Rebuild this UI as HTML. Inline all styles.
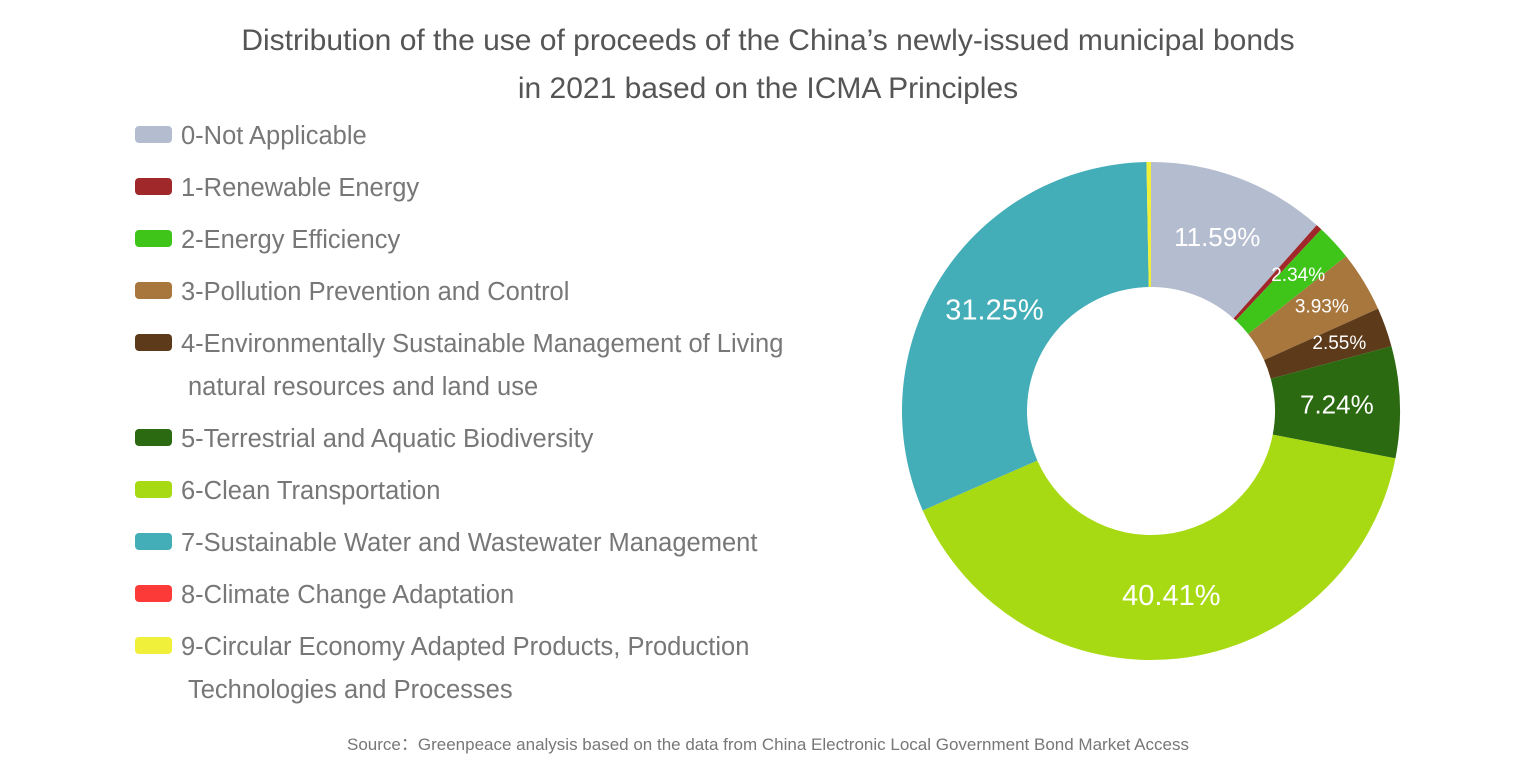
<!DOCTYPE html>
<html><head><meta charset="utf-8"><style>
html,body{margin:0;padding:0;background:#fff;}
body{width:1536px;height:768px;overflow:hidden;font-family:"Liberation Sans","Noto Sans CJK SC",sans-serif;}
</style></head><body>
<svg id="chart" width="1536" height="768" xmlns="http://www.w3.org/2000/svg" font-family="Liberation Sans, Noto Sans CJK SC, sans-serif">
<text x="768" y="50" text-anchor="middle" font-size="30" fill="#555">Distribution of the use of proceeds of the China’s newly-issued municipal bonds</text>
<text x="768" y="98" text-anchor="middle" font-size="30" fill="#555">in 2021 based on the ICMA Principles</text>
<g id="legend"></g>
<g id="slices"></g>
<g id="labels"></g>
<text x="768" y="750" text-anchor="middle" font-size="17" fill="#777">Source：Greenpeace analysis based on the data from China Electronic Local Government Bond Market Access</text>
</svg>
<script>
const categories = ["0-Not Applicable","1-Renewable Energy","2-Energy Efficiency","3-Pollution Prevention and Control","4-Environmentally Sustainable Management of Living|natural resources and land use","5-Terrestrial and Aquatic Biodiversity","6-Clean Transportation","7-Sustainable Water and Wastewater Management","8-Climate Change Adaptation","9-Circular Economy Adapted Products, Production|Technologies and Processes"];
const values = [11.59,0.40,2.34,3.93,2.55,7.24,40.41,31.25,0.0,0.29];
const valueLabels = ["11.59%","","2.34%","3.93%","2.55%","7.24%","40.41%","31.25%","",""];
const colors = ["#b4bccf","#a0282b","#3fc51a","#a8773e","#5c3a1a","#2b6a10","#a8da14","#43adb8","#fc3b38","#f0f03a"];
const NS="http://www.w3.org/2000/svg";
const cx=1151, cy=411, R=249, r=124;
function pt(a,rad){return [cx+rad*Math.sin(a), cy-rad*Math.cos(a)];}
const total=values.reduce((a,b)=>a+b,0);
let cum=0;
const slices=document.getElementById('slices'), labels=document.getElementById('labels'), legend=document.getElementById('legend');
values.forEach((v,i)=>{
  const a0=cum/total*2*Math.PI; cum+=v; const a1=cum/total*2*Math.PI;
  if(v>0){
    const large=(a1-a0)>Math.PI?1:0;
    const [x0,y0]=pt(a0,R),[x1,y1]=pt(a1,R),[x2,y2]=pt(a1,r),[x3,y3]=pt(a0,r);
    const p=document.createElementNS(NS,'path');
    p.setAttribute('d',`M${x0},${y0}A${R},${R} 0 ${large} 1 ${x1},${y1}L${x2},${y2}A${r},${r} 0 ${large} 0 ${x3},${y3}Z`);
    p.setAttribute('fill',colors[i]);
    
    
    slices.appendChild(p);
  }
  if(valueLabels[i]){
    const am=(a0+a1)/2; const small=v<5;
    const [lx,ly]=pt(am,small?200:186);
    const t=document.createElementNS(NS,'text');
    t.setAttribute('x',lx); t.setAttribute('y',ly);
    t.setAttribute('text-anchor','middle'); t.setAttribute('dominant-baseline','central');
    t.setAttribute('fill','#fff'); t.setAttribute('font-size',small?19:(v<15?26:29));
    t.textContent=valueLabels[i];
    
    
    labels.appendChild(t);
  }
});
let y=135;
categories.forEach((c,i)=>{
  const rect=document.createElementNS(NS,'rect');
  rect.setAttribute('x',135); rect.setAttribute('y',y-9); rect.setAttribute('width',37); rect.setAttribute('height',17); rect.setAttribute('rx',4);
  rect.setAttribute('fill',colors[i]);
  
  
  legend.appendChild(rect);
  const parts=c.split('|');
  parts.forEach((s,k)=>{
    const t=document.createElementNS(NS,'text');
    t.setAttribute('x',k?188:181); t.setAttribute('y',y+9+k*43);
    t.setAttribute('font-size',25.5); t.setAttribute('fill','#777');
    t.textContent=s;
    
    
    legend.appendChild(t);
  });
  y+=52+(parts.length-1)*43;
});
</script>
</body></html>
